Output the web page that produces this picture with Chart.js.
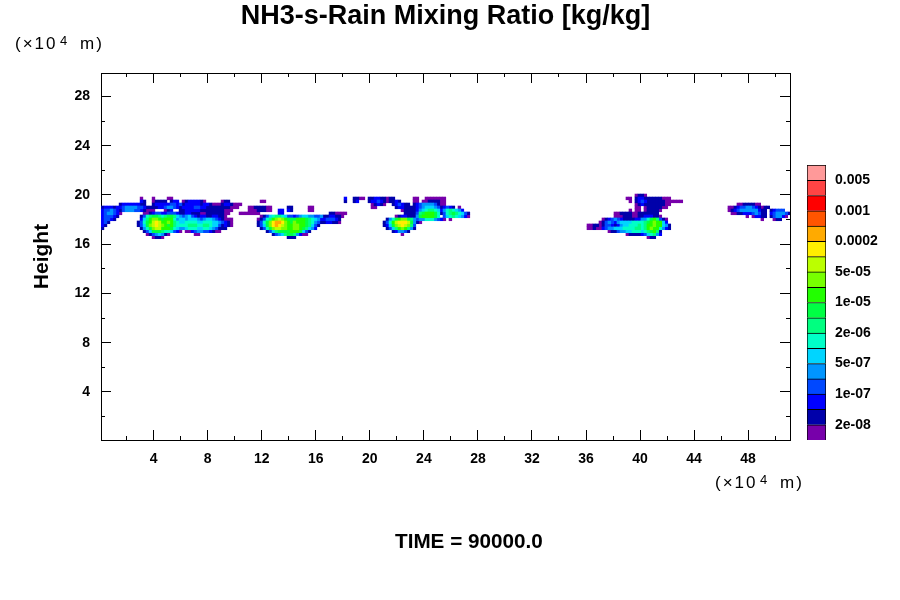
<!DOCTYPE html>
<html><head><meta charset="utf-8">
<style>html,body{margin:0;padding:0;background:#fff}canvas{position:absolute;display:block}</style>
<script src="https://cdn.jsdelivr.net/npm/chart.js@4"></script></head>
<body>
<canvas id="main" width="900" height="600" style="left:0;top:0"></canvas>
<canvas id="bar" width="100" height="285" style="left:800px;top:160px"></canvas>
<script>
const xMajor=[4,8,12,16,20,24,28,32,36,40,44,48];
const xMinor=[2,6,10,14,18,22,26,30,34,38,42,46,50];
const yMajor=[4,8,12,16,20,24,28];
const yMinor=[2,6,10,14,18,22,26];
const levelColors=['#7700aa','#0000aa','#0000ff','#0048ff','#0095ff','#00d5ff','#00ffc8','#00ff80','#00ff44','#22ff00','#77ff00','#bbff00','#ffee00','#ffaa00','#ff5500','#ff0000','#ff4444','#ff9999'];
const barLabels=['2e-08','1e-07','5e-07','2e-06','1e-05','5e-05','0.0002','0.001','0.005'];
const digits='0123456789abcdefgh';
// field cells: one string per height row, one digit per level
const leftCols=[
"",
".......... ...0...0.. ..00...... .......... .......... .......... .......... .......... .2..11",
".......... ...21..011 11.122.012 22210..... 011....... ...00..... .......... .......... .1..12",
"......1222 22211..122 2223323122 2221221000 1221000... .......... .......... .......... ......",
"1222122344 4433211112 2344321222 2332211111 111000...0 0111100... ..11.....0 0......... ......",
"2334321344 43321000.. .012..1122 2221111111 1000.....0 0011100..2 2.21.....0 0......... ......",
"2344320... ....001233 2233321122 1110011111 100...0000 000......2 2......... ......1100 00....",
"233321.... ...1367887 6788754345 3212211221 10........ ...0135677 6533234554 4334112211 0.....",
"23321..... ...2579aa9 8999645545 5543455432 1000...... ..013679ab a988899987 6542233321 ......",
"231....... ..13689bcb 99a9765566 6655666554 3210...... ..1368acdd ca98a99987 6431122110 ......",
"21........ ..1358abcb a989766667 7766776553 1210...... ..1358acdc ba99aa9987 531....... ......",
"1......... ...1468abb 9998654456 6655665431 11........ ...1368abb aa99aa9875 42........ ......",
".......... ....135888 7665320.00 2344332100 .......... .....13578 8889998531 .......... ......",
".......... .....01345 410....... .00....... .......... .......134 578874200. .......... ......",
".......... .......011 0......... .......... .......... .......... ..111..... .......... ......"
];
const midCols=[
"",
"00.1122110 11......00 ..0000000. ..........",
"...1223210 1121....00 .00111100. ..........",
"....01210. .123211.12 344443100. ..........",
"....00.... ..12211112 3455543123 21.0......",
".......... ....011112 4567765246 76542.....",
".......... .....11113 7899986136 7876531...",
".......... ..01221114 8999986.35 6765420...",
".........1 4689aa8743 446664320. 0.........",
"........13 69bcccb841 0......... ..........",
"........12 58abcba73. .......... ..........",
".........1 3579a9741. .......... ..........",
".......... .124431... .......... ..........",
".......... ....0..... .......... ..........",
""
];
const rightCols=[
".......... ........01 10........ .......... .......... .......... ..........",
".......... .....00.12 2111111000 .......... .......... .......... ..........",
".......... ......0.12 3211111100 0000...... .......... .......... ..........",
".......... ........01 2111111100 .......... .......... ..00111100 ..........",
".......... ........00 .01111100. .......... .........0 0123344321 011.......",
".......... ......0.00 .011110... .......... .........0 1234444442 11.12333..",
".......... .001111001 111111.... .......... .......... 0011222343 11.2344431",
".......... .000111001 1222110... .......... .......... .....0.022 11.134420.",
".......012 3432111122 446897310. .......... .......... .......... 0...011...",
"......0134 3245555666 6789a9952. .......... .......... .......... ..........",
"..00110133 2124556667 6799a99541 .......... .......... .......... ..........",
"..00100234 4555666677 679a996421 .......... .......... .......... ..........",
".........0 1134455666 5678971... .......... .......... .......... ..........",
".......... .....01111 2356742... .......... .......... .......... ..........",
".......... .......... ..011..... .......... .......... .......... .........."
];
const leftStart=0, midStart=86, rightStart=160;
const cellW=0.222, cellH=0.243, xOrigin=0.1, yOrigin=19.96;

const pointsByLevel=levelColors.map(()=>[]);
[[leftCols,leftStart],[midCols,midStart],[rightCols,rightStart]].forEach(([rows,start])=>{
  rows.forEach((s,r)=>{
    s.replace(/ /g,'').split('').forEach((ch,i)=>{
      const lv=digits.indexOf(ch);
      if(lv>=0) pointsByLevel[lv].push({x:xOrigin+(start+i+.5)*cellW,y:yOrigin-r*cellH});
    });
  });
});
const BOLD='"Liberation Sans"';
const tickFont={family:BOLD,weight:'bold',size:14};
function side(position,isX,list,len,main){
  return {type:'linear',position,axis:isX?'x':'y',min:0.1,max:isX?51.1:29.9,weight:main?1:0,
    border:{color:'#000',width:1},
    grid:{drawOnChartArea:false,drawTicks:true,tickLength:-len,color:'#000',tickColor:'#000',tickWidth:1},
    ticks:main?{display:true,autoSkip:false,maxRotation:0,color:'#000',font:tickFont,padding:len+11,callback:v=>String(v)}:{display:false,autoSkip:false},
    afterBuildTicks:s=>{s.ticks=list.map(v=>({value:v}));},
    afterFit:s=>{ if(isX)s.height=main?160:0; else s.width=main?101:0; }
  };
}
const scales={
  x:side('bottom',true,xMajor,10,true),
  x2:side('bottom',true,xMinor,4,false),
  x3:side('top',true,xMajor,10,false),
  x4:side('top',true,xMinor,4,false),
  y:side('left',false,yMajor,10,true),
  y2:side('left',false,yMinor,4,false),
  y3:side('right',false,yMajor,10,false),
  y4:side('right',false,yMinor,4,false)
};
scales.y.title={display:true,text:'Height',color:'#000',font:{family:BOLD,weight:'bold',size:21},padding:{top:30,bottom:0}};
const unitLabel=(g,dx,dy)=>{
  g.letterSpacing='2px';g.font='17px '+BOLD;g.fillText('(×10',15+dx,49+dy);
  g.letterSpacing='0px';g.font='13px '+BOLD;g.fillText('4',60+dx,45+dy);
  g.letterSpacing='2px';g.font='17px '+BOLD;g.fillText('m)',80+dx,49+dy);
  g.letterSpacing='0px';
};
const notes={id:'notes',afterDraw(c){
  const g=c.ctx;g.save();g.fillStyle='#000';g.textBaseline='alphabetic';g.textAlign='left';
  g.font='bold 20.7px '+BOLD;g.fillText('TIME = 90000.0',395,548);
  unitLabel(g,0,0);unitLabel(g,700,439);
  g.restore();
}};
new Chart(document.getElementById('main'),{
  type:'scatter',
  data:{datasets:pointsByLevel.map((pts,i)=>({data:pts,xAxisID:'x',yAxisID:'y',order:-i,backgroundColor:levelColors[i],pointStyle:'rect',pointRadius:2.4,pointBorderWidth:0,pointHoverRadius:2.4}))},
  options:{responsive:false,animation:false,devicePixelRatio:1,
    layout:{padding:{left:0,right:110,top:0,bottom:0}},
    plugins:{legend:{display:false},tooltip:{enabled:false},
      title:{display:true,text:'NH3-s-Rain Mixing Ratio [kg/kg]',color:'#000',fullSize:false,font:{family:BOLD,weight:'bold',size:27},padding:{top:0,bottom:40.6}}},
    scales},
  plugins:[notes]
});
new Chart(document.getElementById('bar'),{
  type:'bar',
  data:{labels:['c'],datasets:levelColors.map(col=>({data:[1],backgroundColor:col,borderColor:'#000',borderWidth:1,stack:'s',barPercentage:1,categoryPercentage:1}))},
  options:{responsive:false,animation:false,devicePixelRatio:1,
    layout:{padding:{left:7,top:5,bottom:5,right:0}},
    plugins:{legend:{display:false},tooltip:{enabled:false}},
    scales:{
      x:{display:false,stacked:true},
      y:{position:'right',stacked:true,min:0,max:18,border:{display:false},grid:{display:false,drawTicks:false},
        ticks:{stepSize:1,autoSkip:false,color:'#000',padding:9,font:{family:BOLD,weight:'bold',size:14},
          callback:v=>(v%2===1?barLabels[(v-1)/2]:'')},
        afterFit:s=>{s.width=74;s.paddingTop=0;s.paddingBottom=0;}}
    }}
});
</script></body></html>
